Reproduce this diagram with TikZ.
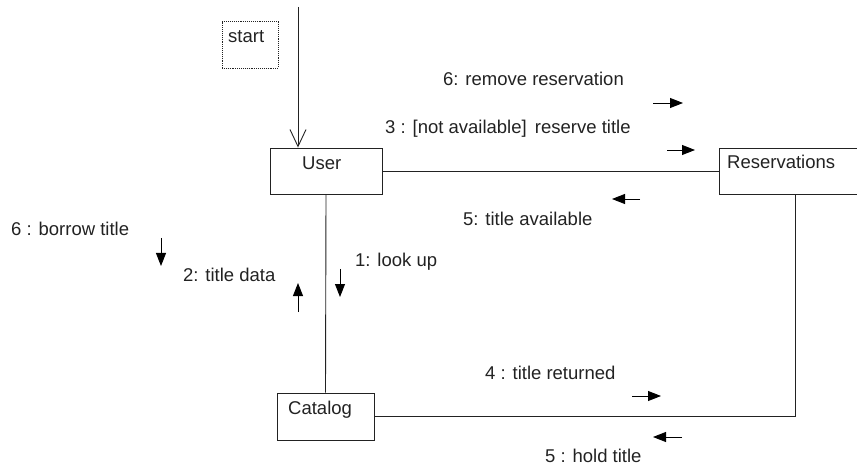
\documentclass[tikz,border=0pt]{standalone}
\usepackage{fontspec}
\setmainfont{Liberation Sans}
\usetikzlibrary{arrows.meta}
\definecolor{ink}{HTML}{222222}
\begin{document}
\begin{tikzpicture}[x=1pt,y=-1pt,
  box/.style={draw=ink,line width=0.9pt,rectangle,inner sep=0pt},
  txt/.style={anchor=base west,inner sep=0pt,text=ink,font=\fontsize{18.5}{22}\selectfont},
  link/.style={draw=ink,line width=0.9pt},
  msg/.style={draw=black,line width=0.9pt,-{Triangle[length=13pt,width=10pt]}}]
\useasboundingbox (0,0) rectangle (857,465);
% boxes
\node[box,densely dotted,minimum width=56pt,minimum height=47pt] (start) at (250,44.5) {};
\node[box,minimum width=112pt,minimum height=46pt] (user) at (326,171) {};
\node[box,minimum width=152pt,minimum height=46pt] (res) at (795,171) {};
\node[box,minimum width=97pt,minimum height=47pt] (cat) at (325.5,416.5) {};
% box texts
\node[txt] (tstart) at (228,43) {start};
\node[txt] (tuser) at (302,170) {User};
\node[txt] (tres) at (727,169) {Reservations};
\node[txt] (tcat) at (288,414) {Catalog};
% links
\coordinate (s0) at (298,7);
\draw[link,-{Straight Barb[length=17pt,width=16pt]}] (s0) -- (s0 |- user.north);
\draw[link] (user.east) -- (res.west);
\draw[link] (user.south) -- (cat.north);
\draw[link] (cat.east) -| (res.south);
% message labels
\node[txt] (m6a) at (443,86) {6: remove reservation};
\node[txt] (m3) at (385,134) {3 : [not available]\, reserve title};
\node[txt] (m5a) at (463,226) {5: title available};
\node[txt] (m6b) at (11,236) {6 : borrow title};
\node[txt] (m2) at (183,281) {2: title data};
\node[txt] (m1) at (355,266) {1: look up};
\node[txt] (m4) at (485,379) {4 : title returned};
\node[txt] (m5b) at (545,462) {5 : hold title};
% message arrows
\draw[msg] (653,103) -- (683,103);
\draw[msg] (667,150) -- (695,150);
\draw[msg] (640,199) -- (612,199);
\draw[msg] (161,238) -- (161,266);
\draw[msg] (298,312) -- (298,283);
\draw[msg] (340,269) -- (340,297);
\draw[msg] (632,396) -- (661,396);
\draw[msg] (682,437) -- (653,437);
\end{tikzpicture}
\end{document}
